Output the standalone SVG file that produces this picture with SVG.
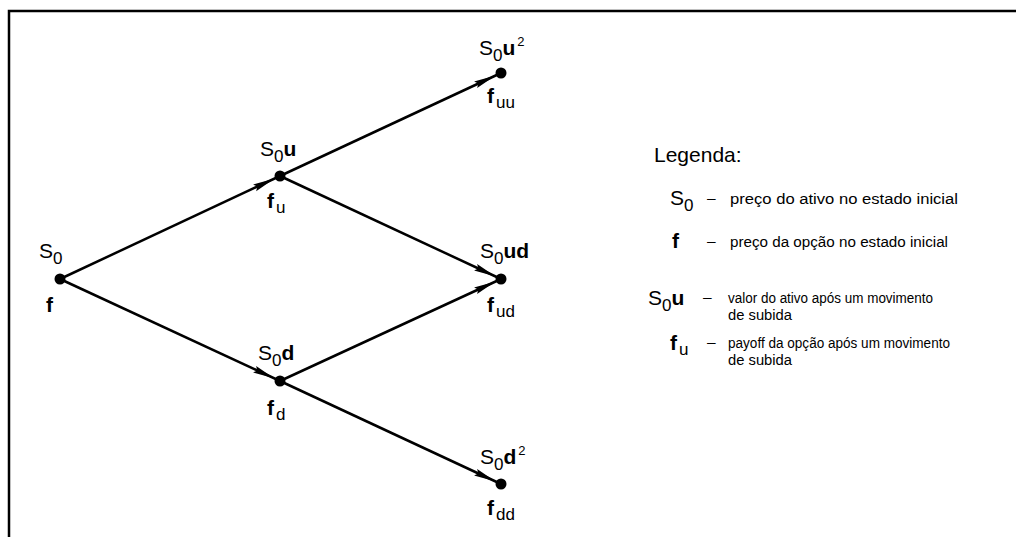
<svg xmlns="http://www.w3.org/2000/svg" width="1016" height="537" viewBox="0 0 1016 537">
<style>
text{font-family:"Liberation Sans",Arial,sans-serif;fill:#000}
.lbl{font-size:21px}
.sub{font-size:17px}
.sup{font-size:13px}
.b{font-weight:bold}
.leg{font-size:15.5px}
.edge{stroke:#000;stroke-width:2.5;fill:none;marker-end:url(#arr)}
.dot{fill:#000}
</style>
<defs>
<marker id="arr" markerUnits="userSpaceOnUse" viewBox="0 -5 28 10" refX="28" refY="0" markerWidth="28" markerHeight="10" orient="auto">
<path d="M0,-3.6 L22,0 L0,3.6 L3,0 z" fill="#000"/>
</marker>
</defs>
<rect width="1016" height="537" fill="#fff"/>
<path d="M9,537 V11 H1016" fill="none" stroke="#000" stroke-width="2.5"/>
<g id="connectors">
<line class="edge" x1="60" y1="279" x2="280" y2="176"/>
<line class="edge" x1="60" y1="279" x2="280" y2="381"/>
<line class="edge" x1="280" y1="176" x2="501" y2="73"/>
<line class="edge" x1="280" y1="176" x2="501" y2="279"/>
<line class="edge" x1="280" y1="381" x2="501" y2="279"/>
<line class="edge" x1="280" y1="381" x2="501" y2="484"/>
</g>
<g id="n0">
<circle class="dot" cx="60" cy="279" r="5.5"/>
<text class="lbl" x="39" y="258">S<tspan class="sub" dy="6">0</tspan></text>
<text class="lbl b" x="46" y="312">f</text>
</g>
<g id="nu">
<circle class="dot" cx="280" cy="176" r="5.5"/>
<text class="lbl" x="260" y="156">S<tspan class="sub" dy="6">0</tspan><tspan class="b" dy="-6">u</tspan></text>
<text class="lbl" x="267" y="208"><tspan class="b">f</tspan><tspan class="sub" dx="2" dy="5">u</tspan></text>
</g>
<g id="nd">
<circle class="dot" cx="280" cy="381" r="5.5"/>
<text class="lbl" x="258" y="360">S<tspan class="sub" dy="6">0</tspan><tspan class="b" dy="-6">d</tspan></text>
<text class="lbl" x="267" y="415"><tspan class="b">f</tspan><tspan class="sub" dx="2" dy="5">d</tspan></text>
</g>
<g id="nuu">
<circle class="dot" cx="501" cy="73" r="5.5"/>
<text class="lbl" x="479" y="55">S<tspan class="sub" dy="6">0</tspan><tspan class="b" dy="-6">u</tspan><tspan class="sup" dx="2" dy="-9">2</tspan></text>
<text class="lbl" x="487" y="103"><tspan class="b">f</tspan><tspan class="sub" dx="2" dy="5">uu</tspan></text>
</g>
<g id="nud">
<circle class="dot" cx="501" cy="279" r="5.5"/>
<text class="lbl" x="480" y="258">S<tspan class="sub" dy="6">0</tspan><tspan class="b" dy="-6">ud</tspan></text>
<text class="lbl" x="487" y="312"><tspan class="b">f</tspan><tspan class="sub" dx="2" dy="5">ud</tspan></text>
</g>
<g id="ndd">
<circle class="dot" cx="501" cy="484" r="5.5"/>
<text class="lbl" x="480" y="464">S<tspan class="sub" dy="6">0</tspan><tspan class="b" dy="-6">d</tspan><tspan class="sup" dx="2" dy="-9">2</tspan></text>
<text class="lbl" x="487" y="515"><tspan class="b">f</tspan><tspan class="sub" dx="2" dy="5">dd</tspan></text>
</g>
<g id="legend">
<text class="lbl" x="654" y="162">Legenda:</text>
<text class="lbl" x="670" y="205">S<tspan class="sub" dy="6">0</tspan></text>
<text class="leg" x="707" y="203">–</text>
<text class="leg" x="730" y="204" textLength="228" lengthAdjust="spacingAndGlyphs">preço do ativo no estado inicial</text>
<text class="lbl b" x="672" y="248">f</text>
<text class="leg" x="707" y="246">–</text>
<text class="leg" x="730" y="247" textLength="218" lengthAdjust="spacingAndGlyphs">preço da opção no estado inicial</text>
<text class="lbl" x="648" y="305">S<tspan class="sub" dy="6">0</tspan><tspan class="b" dy="-6">u</tspan></text>
<text class="leg" x="703" y="302">–</text>
<text class="leg" x="728" y="303" textLength="205" lengthAdjust="spacingAndGlyphs">valor do ativo após um movimento</text>
<text class="leg" x="728" y="320" textLength="64" lengthAdjust="spacingAndGlyphs">de subida</text>
<text class="lbl" x="670" y="350"><tspan class="b">f</tspan><tspan class="sub" dx="2" dy="5">u</tspan></text>
<text class="leg" x="707" y="347">–</text>
<text class="leg" x="728" y="348" textLength="222" lengthAdjust="spacingAndGlyphs">payoff da opção após um movimento</text>
<text class="leg" x="728" y="365" textLength="64" lengthAdjust="spacingAndGlyphs">de subida</text>
</g>
</svg>
